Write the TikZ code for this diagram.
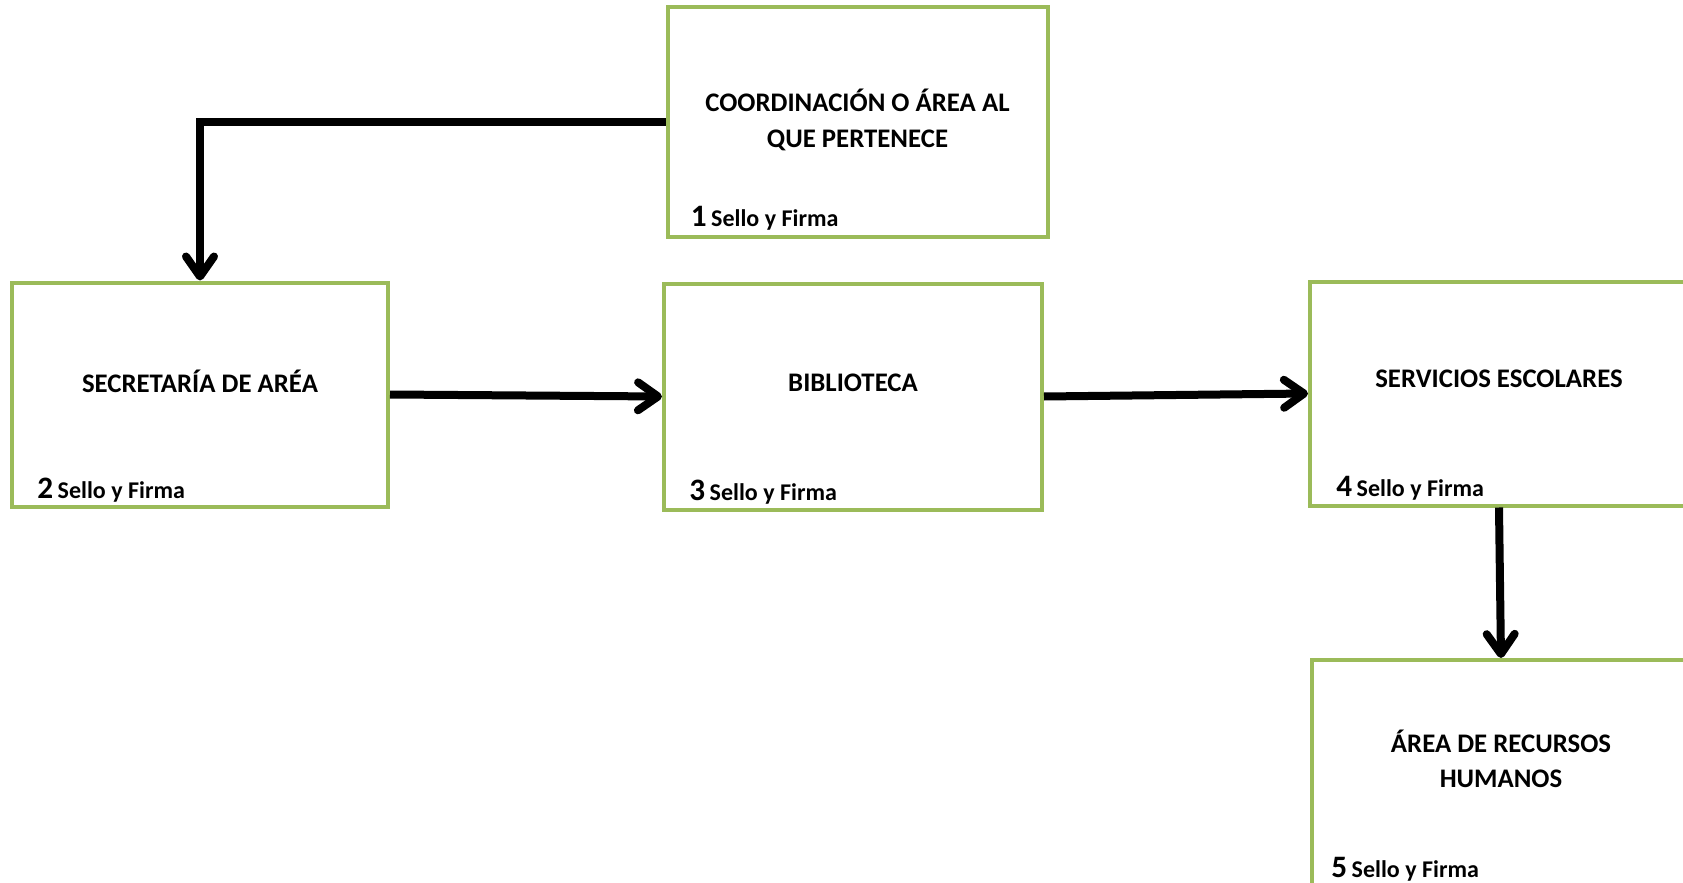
\documentclass[tikz,border=0pt]{standalone}
\usepackage{fontspec}
\setmainfont{Carlito}
\usetikzlibrary{arrows.meta}
\definecolor{boxgreen}{HTML}{9BBB59}
\newcommand{\sello}[1]{{\fontsize{15.6}{16}\selectfont #1} {\fontsize{12}{14}\selectfont Sello y Firma}}
\tikzset{
	step box/.style={rectangle, draw=boxgreen, line width=2pt, fill=white, minimum width=189pt, minimum height=113pt},
	title node/.style={align=center, font=\bfseries\fontsize{13.4}{17.8}\selectfont},
	foot node/.style={anchor=base west, inner sep=0pt, font=\bfseries},
	flow arrow/.style={line width=4pt, -{Straight Barb[length=10pt, width=14pt, line cap=round, line join=round]}},
}

\begin{document}
\begin{tikzpicture}[x=0.5pt, y=-0.5pt]
\useasboundingbox (0,0) rectangle (1683,883);

              \node[step box, minimum width=190pt, minimum height=115pt] (coord) at (857.5,122) {};
              \node[step box, minimum width=188pt, minimum height=112pt] (secr) at (200,394.5) {};
              \node[step box, minimum width=189pt, minimum height=113pt] (bib) at (853,396.5) {};
              \node[step box, minimum width=189pt, minimum height=112pt] (serv) at (1499,393.5) {};
              \node[step box, minimum width=189pt, minimum height=113pt] (rh) at (1501,773) {};

              \node[title node] (coordT) at ([yshift=1pt]coord.center) {COORDINACIÓN O ÁREA AL\\QUE PERTENECE};
              \node[title node] (secrT) at ([yshift=6.5pt]secr.center) {SECRETARÍA DE ARÉA};
              \node[title node] (bibT) at ([yshift=7pt]bib.center) {BIBLIOTECA};
              \node[title node] (servT) at ([yshift=7.5pt]serv.center) {SERVICIOS ESCOLARES};
              \node[title node] (rhT) at ([yshift=7pt]rh.center) {ÁREA DE RECURSOS\\HUMANOS};

              \node[foot node] (coordF) at ([xshift=12.5pt, yshift=6pt]coord.south west) {\sello{1}};
              \node[foot node] (secrF) at ([xshift=13.5pt, yshift=5pt]secr.south west) {\sello{2}};
              \node[foot node] (bibF) at ([xshift=13.5pt, yshift=5.5pt]bib.south west) {\sello{3}};
              \node[foot node] (servF) at ([xshift=14pt, yshift=5.5pt]serv.south west) {\sello{4}};
              \node[foot node] (rhF) at ([xshift=10.5pt, yshift=5.5pt]rh.south west) {\sello{5}};

              \draw[flow arrow] (coord.west) -| (secr.north);
              \draw[flow arrow] (secr.east) -- (bib.west);
              \draw[flow arrow] (bib.east) -- (serv.west);
              \draw[flow arrow] (serv.south) -- (rh.north);

\end{tikzpicture}
\end{document}
